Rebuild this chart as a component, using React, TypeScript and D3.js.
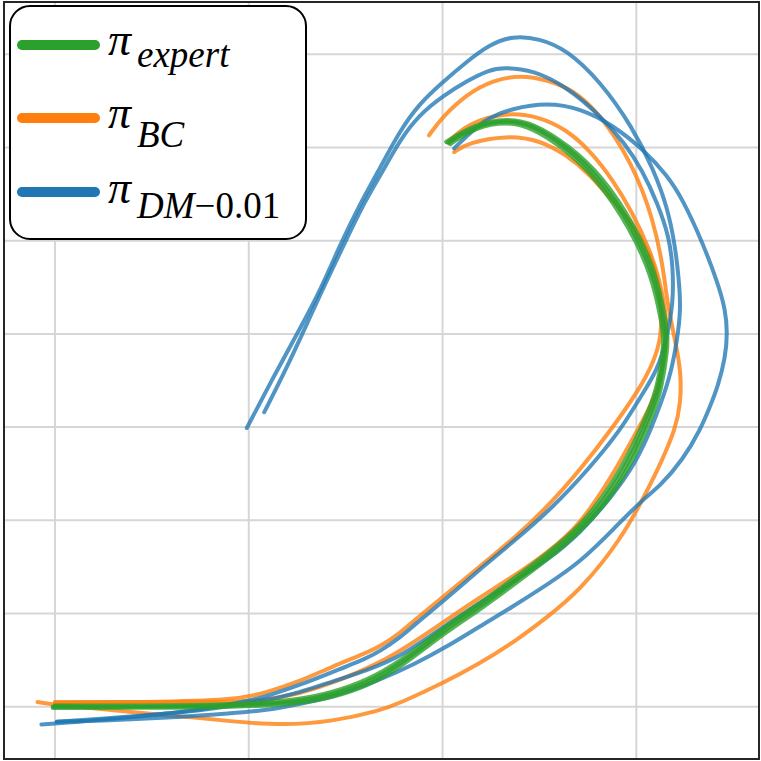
import React from "react";
import * as d3 from "d3";

const X_TICKS = [0, 1, 2, 3];
const Y_TICKS = [0, 1, 2, 3, 4, 5, 6, 7];

const expertRuns: [number, number][][] = [
  [[-0.01,0.0],[0.49,0.0],[0.92,0.01],[1.26,0.05],[1.43,0.13],[1.61,0.25],[1.78,0.45],[2.02,0.84],[2.19,1.07],[2.36,1.33],[2.54,1.61],[2.71,1.90],[2.88,2.33],[3.00,2.79],[3.08,3.18],[3.12,3.43],[3.15,3.83],[3.15,3.99],[3.14,4.15],[3.09,4.65],[2.98,5.15],[2.81,5.68],[2.64,6.01],[2.47,6.24],[2.33,6.30],[2.17,6.24],[2.03,6.05]],
  [[-0.01,-0.01],[0.49,-0.01],[0.92,0.0],[1.26,0.03],[1.43,0.10],[1.61,0.22],[1.78,0.42],[2.02,0.81],[2.19,1.04],[2.36,1.30],[2.54,1.58],[2.71,1.87],[2.89,2.30],[3.01,2.76],[3.09,3.16],[3.13,3.42],[3.16,3.83],[3.16,3.99],[3.15,4.16],[3.10,4.66],[2.99,5.17],[2.82,5.70],[2.65,6.02],[2.47,6.26],[2.33,6.31],[2.17,6.25],[2.02,6.06]],
  [[0.0,0.01],[0.49,0.01],[0.92,0.02],[1.26,0.07],[1.43,0.15],[1.61,0.28],[1.78,0.48],[2.02,0.87],[2.19,1.10],[2.36,1.36],[2.54,1.64],[2.71,1.93],[2.87,2.36],[2.99,2.82],[3.07,3.20],[3.11,3.44],[3.14,3.83],[3.14,3.98],[3.13,4.14],[3.08,4.63],[2.97,5.13],[2.80,5.66],[2.63,5.99],[2.46,6.22],[2.33,6.28],[2.17,6.22],[2.04,6.04]],
];

const bcRuns: [number, number][][] = [
  [[1.93,6.13],[2.00,6.33],[2.13,6.58],[2.26,6.72],[2.40,6.78],[2.55,6.72],[2.67,6.62],[2.81,6.37],[2.98,5.83],[3.09,5.22],[3.14,4.69],[3.16,4.33],[3.20,3.93],[3.23,3.61],[3.23,3.26],[3.20,2.97],[3.13,2.63],[3.05,2.29],[2.92,1.79],[2.71,1.25],[2.54,0.96],[2.36,0.68],[2.18,0.45],[2.00,0.25],[1.78,0.04],[1.68,-0.04],[1.43,-0.16],[1.18,-0.20],[0.92,-0.16],[0.75,-0.12],[0.40,-0.06],[0.18,-0.01],[0.00,0.02],[-0.09,0.05]],
  [[2.03,6.06],[2.13,6.26],[2.33,6.38],[2.50,6.33],[2.64,6.19],[2.76,5.97],[2.88,5.65],[2.98,5.30],[3.07,4.90],[3.12,4.58],[3.15,4.26],[3.16,3.99],[3.14,3.72],[3.11,3.40],[3.05,3.13],[3.00,2.95],[2.88,2.49],[2.71,1.95],[2.54,1.65],[2.36,1.39],[2.19,1.17],[2.02,0.93],[1.85,0.69],[1.68,0.47],[1.43,0.25],[1.26,0.14],[1.09,0.07],[0.92,0.05],[0.49,0.05],[0.00,0.05]],
  [[2.06,5.95],[2.13,6.05],[2.33,6.13],[2.50,6.08],[2.64,5.92],[2.76,5.71],[2.86,5.47],[2.97,5.22],[3.07,4.87],[3.11,4.58],[3.13,4.33],[3.13,3.97],[3.09,3.70],[3.02,3.42],[2.88,3.00],[2.71,2.54],[2.54,2.14],[2.36,1.79],[2.19,1.50],[2.02,1.21],[1.85,0.92],[1.78,0.79],[1.68,0.65],[1.61,0.58],[1.43,0.43],[1.26,0.27],[1.09,0.15],[0.92,0.07],[0.49,0.05],[0.00,0.04]],
];

const dmRuns: [number, number][][] = [
  [[0.99,2.99],[1.12,3.51],[1.26,4.04],[1.37,4.47],[1.47,4.95],[1.57,5.38],[1.68,5.79],[1.78,6.18],[1.88,6.47],[2.00,6.70],[2.13,6.93],[2.24,7.10],[2.36,7.20],[2.50,7.17],[2.64,7.05],[2.81,6.72],[2.98,6.22],[3.09,5.76],[3.16,5.36],[3.20,4.95],[3.22,4.58],[3.23,4.26],[3.21,3.93],[3.18,3.59],[3.13,3.27],[3.07,2.95],[3.00,2.63],[2.88,2.27],[2.71,1.86],[2.54,1.57],[2.36,1.34],[2.19,1.11],[2.02,0.88],[1.78,0.53],[1.61,0.39],[1.43,0.27],[1.26,0.15],[1.09,0.07],[0.92,0.01],[0.75,-0.04],[0.49,-0.09],[0.23,-0.13],[0.01,-0.16]],
  [[1.08,3.16],[1.19,3.61],[1.29,4.06],[1.39,4.52],[1.49,4.95],[1.58,5.35],[1.69,5.74],[1.78,6.08],[1.88,6.35],[2.00,6.55],[2.13,6.72],[2.24,6.83],[2.31,6.86],[2.47,6.83],[2.64,6.65],[2.81,6.35],[2.94,6.05],[3.03,5.76],[3.11,5.40],[3.17,5.04],[3.19,4.69],[3.19,4.33],[3.16,3.97],[3.11,3.61],[3.02,3.32],[2.92,2.97],[2.75,2.54],[2.57,2.14],[2.36,1.76],[2.19,1.47],[2.02,1.16],[1.85,0.87],[1.78,0.74],[1.68,0.60],[1.61,0.52],[1.43,0.37],[1.26,0.23],[1.09,0.11],[1.01,0.07],[0.75,-0.04],[0.40,-0.11],[0.14,-0.16],[-0.07,-0.19]],
  [[2.06,5.99],[2.21,6.30],[2.36,6.42],[2.54,6.48],[2.71,6.42],[2.88,6.24],[3.04,5.97],[3.16,5.70],[3.24,5.44],[3.34,4.99],[3.42,4.55],[3.46,4.26],[3.47,4.01],[3.46,3.75],[3.42,3.43],[3.38,3.22],[3.33,2.97],[3.24,2.65],[3.12,2.36],[3.03,2.22],[2.88,1.90],[2.71,1.55],[2.54,1.31],[2.36,1.07],[2.19,0.86],[2.02,0.64],[1.85,0.45],[1.68,0.29],[1.43,0.10],[1.26,0.03],[1.09,-0.04],[0.92,-0.07],[0.58,-0.12],[0.23,-0.15],[0.01,-0.16]],
];

const LEGEND_LABELS = [
  { sub: "expert", subUpright: "", color: "#2ca02c" },
  { sub: "BC", subUpright: "", color: "#ff7f0e" },
  { sub: "DM", subUpright: "\u22120.01", color: "#1f77b4" },
];

const W = 761;
const H = 761;
const PL = 4, PR = 759, PT = 2, PB = 759;

export default function App() {
  const x = d3.scaleLinear().domain([-0.263, 3.633]).range([PL, PR]);
  const y = d3.scaleLinear().domain([-0.561, 7.561]).range([PB, PT]);
  const line = d3
    .line<[number, number]>()
    .x((d) => x(d[0]))
    .y((d) => y(d[1]))
    .curve(d3.curveBasis);

  const legendY = [45, 118, 192];
  const piBase = [55, 128, 203];
  const subBase = [67, 147, 218];

  return (
    <svg
      width={W}
      height={H}
      style={{ position: "absolute", left: 0, top: 0, background: "#fff" }}
    >
      <defs>
        <clipPath id="plotclip">
          <rect x={PL} y={PT} width={PR - PL} height={PB - PT} />
        </clipPath>
      </defs>
      <rect x={0} y={0} width={W} height={H} fill="#fff" />
      <g>
        {X_TICKS.map((t) => (
          <line key={"gx" + t} x1={x(t)} x2={x(t)} y1={PT} y2={PB} stroke="#d6d6d6" strokeWidth={2} />
        ))}
        {Y_TICKS.map((t) => (
          <line key={"gy" + t} x1={PL} x2={PR} y1={y(t)} y2={y(t)} stroke="#d6d6d6" strokeWidth={2} />
        ))}
      </g>
      <g clipPath="url(#plotclip)" fill="none" strokeLinecap="round" strokeLinejoin="round">
        {bcRuns.map((r, i) => (
          <path key={"bc" + i} d={line(r) || ""} stroke="#ff7f0e" strokeOpacity={0.8} strokeWidth={4} />
        ))}
        {dmRuns.map((r, i) => (
          <path key={"dm" + i} d={line(r) || ""} stroke="#1f77b4" strokeOpacity={0.78} strokeWidth={4} />
        ))}
        {expertRuns.map((r, i) => (
          <path key={"ex" + i} d={line(r) || ""} stroke="#2ca02c" strokeOpacity={0.8} strokeWidth={4.5} />
        ))}
      </g>
      <rect x={PL} y={PT} width={PR - PL} height={PB - PT} fill="none" stroke="#262626" strokeWidth={2} />
      <g>
        <rect x={10} y={6} width={296} height={233} rx={20} ry={20} fill="#fff" stroke="#000" strokeWidth={2} />
        {LEGEND_LABELS.map((l, i) => (
          <g key={"lg" + i}>
            <line x1={22} x2={95} y1={legendY[i]} y2={legendY[i]} stroke={l.color} strokeWidth={10} strokeLinecap="round" />
            <text x={108} y={piBase[i]} style={{ fontFamily: "Liberation Serif", fontStyle: "italic", fontSize: "46px" }} fill="#000">
              {"\u03c0"}
            </text>
            <text x={137} y={subBase[i]} style={{ fontFamily: "Liberation Serif", fontSize: "37px" }} fill="#000">
              <tspan style={{ fontStyle: "italic" }}>{l.sub}</tspan>
              {l.subUpright ? <tspan>{l.subUpright}</tspan> : null}
            </text>
          </g>
        ))}
      </g>
    </svg>
  );
}
